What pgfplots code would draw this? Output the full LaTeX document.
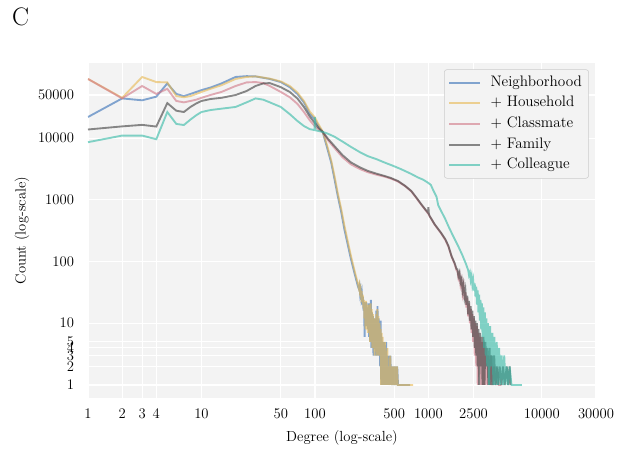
\documentclass[border=0pt]{standalone}
\usepackage{pgfplots}
\pgfplotsset{compat=1.18}

\definecolor{bgpanel}{RGB}{243,243,243}
\definecolor{cneigh}{RGB}{52,110,182}
\definecolor{chouse}{RGB}{232,184,80}
\definecolor{cclass}{RGB}{208,118,134}
\definecolor{cfamily}{RGB}{60,60,60}
\definecolor{ccolleague}{RGB}{50,185,165}

\begin{document}
\begin{tikzpicture}
\begin{axis}[
  name=main,
  scale only axis, width=381pt, height=251.25pt,
  xmode=log, ymode=log,
  xmin=1, xmax=30000, ymin=0.615, ymax=165000,
  axis background/.style={fill=bgpanel},
  axis line style={draw=none},
  major tick length=0pt, minor tick length=0pt,
  grid=major, grid style={white, line width=0.9pt},
  xtick={1,2,3,4,10,50,100,500,1000,2500,10000,30000},
  xticklabels={1,2,3,4,10,50,100,500,1000,2500,10000,30000},
  ytick={1,2,3,4,5,10,100,1000,10000,50000},
  yticklabels={1,2,3,4,5,10,100,1000,10000,50000},
  tick label style={font=\fontsize{11}{13}\selectfont},
  xticklabel style={yshift=-4.5pt},
  yticklabel style={xshift=-7pt},
  xlabel={Degree (log-scale)}, ylabel={Count (log-scale)},
  label style={font=\fontsize{11}{13}\selectfont},
  xlabel style={at={(axis description cs:0.5,-0.1194)}, anchor=center},
  ylabel style={at={(axis description cs:-0.13,0.5)}, anchor=center},
  legend style={at={(0.986,0.981)}, anchor=north east, fill=bgpanel, draw=gray!40,
    rounded corners=2pt, font=\fontsize{11.4}{13}\selectfont,
    nodes={text height=8pt, text depth=2.5pt, inner ysep=2.5pt}},
  legend cell align=left,
  legend image code/.code={\draw[#1] (0pt,0pt) -- (23pt,0pt); \path[draw=none] (0pt,0pt) -- (29pt,0pt);},
  every axis plot/.append style={line width=1.4pt, draw opacity=0.6, no marks},
]
% Neighborhood
\addplot[color=cneigh] coordinates {
(1,22000) (2,44000) (3,41000) (4,47000) (5,77000) (6,52000) (7,48000) (8,52000) (9,56000) (10,60000)
(12,66000) (15,77000) (20,98000) (25,101000) (30,100000) (35,95000) (40,91000) (50,81000) (60,67000)
(70,52000) (80,38000) (90,25000) (100,20000) (108,15500) (117,12600) (128,7000) (139,4030) (149,2130)
(159,1150) (170,650) (182,330) (195,185) (208,108) (223,65) (239,40)
(244,36) (247,40) (250,30) (253,34) (256,26) (259,30) (262,20) (265,27) (268,16) (271,22) (274,6)
(277,20) (280,10) (283,22) (286,9) (290,18) (293,8) (297,21) (300,6) (304,18) (307,5) (311,24) (314,4)
(318,15) (321,5) (325,13) (328,3) (332,12) (336,4) (340,10) (344,3) (348,16) (352,3) (356,19) (360,4)
(364,12) (368,3) (372,9) (376,2) (380,11) (384,1) (388,6) (392,2) (396,5) (400,1) (405,5) (410,1)
(415,4) (420,1) (425,5) (430,1) (436,3) (442,1) (448,3) (455,1) (462,3) (469,1) (476,2) (484,1)
(492,2) (500,1) (510,2) (520,1) (531,2) (540,1) (610,1) (690,1)
};
\addlegendentry{Neighborhood}
% + Household
\addplot[color=chouse] coordinates {
(1,91000) (2,45000) (3,98000) (4,81000) (5,80000) (6,48000) (7,46000) (8,48000) (9,52000) (10,56000)
(12,63000) (15,72000) (20,91000) (25,98000) (30,100000) (35,96000) (40,92000) (50,83000) (60,70000)
(70,55000) (80,40000) (90,27000) (100,21500) (108,16500) (117,12800) (128,7600) (139,4400) (149,2400)
(159,1280) (170,730) (182,380) (195,210) (208,122) (223,72) (239,44)
(243,38) (246,42) (249,33) (252,36) (255,28) (258,33) (261,22) (264,29) (267,18) (270,24) (273,12)
(276,21) (279,8) (282,23) (285,11) (289,17) (292,7) (296,20) (299,8) (303,16) (306,5) (310,21) (313,6)
(317,17) (320,4) (324,14) (327,5) (331,11) (335,3) (339,12) (343,4) (347,14) (351,3) (355,17) (359,5)
(363,13) (367,3) (371,10) (375,3) (379,8) (383,1) (387,7) (391,2) (395,6) (399,1) (404,4) (409,1)
(414,5) (419,1) (424,3) (429,1) (435,4) (441,1) (447,2) (454,1) (461,3) (468,1) (475,2) (483,1)
(491,2) (499,1) (508,2) (518,1) (528,2) (538,1) (600,1) (733,1)
};
\addlegendentry{$+$ Household}
% + Classmate
\addplot[color=cclass] coordinates {
(1,91000) (2,44000) (3,70000) (4,52000) (5,63000) (6,40000) (7,38000) (8,40000) (9,42000) (10,45000)
(12,50000) (15,56000) (20,70000) (25,80000) (30,81000) (35,78000) (40,70000) (50,56000) (60,46000)
(70,36000) (80,26500) (90,19500) (100,15500) (108,13800) (117,12600) (130,9300) (148,7000) (175,4900)
(208,3750) (250,3150) (293,2800) (350,2550) (410,2380) (470,2200) (539,1980) (620,1680) (707,1370)
(780,1080) (867,830) (950,670) (1000,590) (1027,540) (1137,395) (1297,285) (1413,222) (1500,175)
(1601,120) (1700,92) (1770,72)
(1800,70) (1840,54) (1880,62) (1920,42) (1960,50) (2000,31) (2040,40) (2080,24) (2120,32) (2160,18)
(2200,26) (2240,13) (2280,21) (2320,10) (2360,17) (2400,7) (2440,14) (2480,5) (2520,12) (2560,3)
(2600,10) (2640,2) (2680,9) (2720,1) (2760,7) (2800,2) (2850,6) (2900,1) (2960,5) (3020,1) (3080,5)
(3150,1) (3220,4) (3300,1) (3380,3) (3460,1) (3560,3) (3660,1) (3780,2) (3900,1) (4050,2) (4200,1)
(4400,1)
};
\addlegendentry{$+$ Classmate}
% + Family
\addplot[color=cfamily] coordinates {
(1,13800) (2,15500) (3,16400) (4,15400) (5,37000) (6,27800) (7,26500) (8,32000) (9,36500) (10,40000)
(12,43000) (15,45000) (20,50000) (25,58000) (30,70000) (35,77000) (40,78000) (50,67000) (60,56000)
(70,44000) (80,32000) (90,22500) (100,17500) (108,14500) (117,12600) (130,9800) (148,7500) (175,5300)
(208,4030) (250,3350) (293,2940) (350,2650) (410,2440) (470,2250) (539,2020) (620,1700) (707,1390)
(780,1100) (867,845) (950,680) (990,620) (1000,760) (1010,590) (1027,545) (1137,400) (1297,290)
(1413,228) (1500,180) (1601,122) (1700,95) (1770,76)
(1800,75) (1840,58) (1880,66) (1920,46) (1960,52) (2000,34) (2040,42) (2080,27) (2120,34) (2160,20)
(2200,28) (2240,14) (2280,23) (2320,11) (2360,19) (2400,8) (2440,16) (2480,6) (2520,13) (2560,4)
(2600,11) (2640,3) (2680,10) (2720,2) (2760,8) (2800,1) (2850,7) (2900,2) (2950,6) (3000,1) (3060,6)
(3120,1) (3180,5) (3240,2) (3300,4) (3380,1) (3460,4) (3540,1) (3620,3) (3700,1) (3800,3) (3900,1)
(4000,2) (4100,1) (4250,2) (4400,1) (4550,2) (4700,1) (4900,2) (5050,1) (5200,2) (5300,1)
};
\addlegendentry{$+$ Family}
% + Colleague
\addplot[color=ccolleague] coordinates {
(1,8600) (2,11000) (3,11000) (4,9600) (5,26500) (6,17000) (7,16300) (8,20000) (9,23500) (10,26500)
(12,28500) (15,30000) (20,32000) (25,38000) (30,44000) (35,42000) (40,38000) (50,32000) (60,24500)
(70,19000) (80,15700) (90,14000) (99,13500) (100,22000) (101,13400) (117,12600) (130,11800)
(148,10600) (175,8800) (208,7200) (250,5900) (293,5100) (350,4550) (410,4030) (490,3550) (577,3130)
(700,2650) (811,2300) (900,2120) (990,1900) (1050,1750) (1100,1450) (1180,1120) (1220,820) (1300,650)
(1400,500) (1500,375) (1650,260) (1833,177) (2000,125) (2150,90) (2245,72)
(2280,60) (2320,66) (2360,50) (2400,58) (2440,42) (2480,50) (2520,34) (2560,44) (2600,27) (2640,39)
(2680,20) (2720,34) (2760,15) (2800,29) (2840,11) (2880,24) (2920,8) (2960,21) (3000,6) (3050,18)
(3100,4) (3150,15) (3200,3) (3250,12) (3300,2) (3350,10) (3420,1) (3500,9) (3580,2) (3660,7) (3740,1)
(3820,6) (3900,1) (4000,5) (4100,1) (4200,4) (4300,1) (4420,3) (4540,1) (4660,3) (4780,1) (4900,2)
(5050,1) (5200,2) (5400,1) (6000,1) (6650,1)
};
\addlegendentry{$+$ Colleague}
\end{axis}
\node[font=\fontsize{19}{22}\selectfont] at ([xshift=-50.6pt,yshift=34.3pt]main.north west) {C};
\pgfresetboundingbox
\path[use as bounding box] ([xshift=-66pt,yshift=-41.25pt]main.south west) rectangle ([xshift=27pt,yshift=47.25pt]main.north east);
\end{tikzpicture}
\end{document}
